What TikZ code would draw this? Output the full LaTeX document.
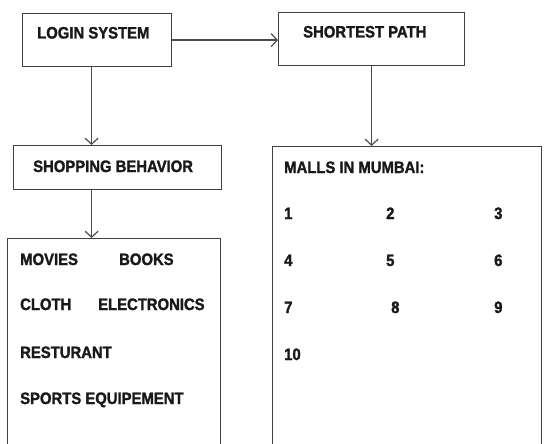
\documentclass[tikz,border=0pt]{standalone}
\usepackage{fontspec}
\setmainfont[BoldFeatures={FakeBold=1.6, FakeStretch=0.9}]{Liberation Sans}
\usetikzlibrary{arrows.meta}

\tikzset{
box/.style={draw=black!75, line width=1.2pt, anchor=north west, inner sep=0pt},
lbl/.style={anchor=base west, inner sep=0pt, text=black!90},
conn/.style={draw=black!70, line width=1.2pt, -{Straight Barb[length=6pt, width=13pt, line width=1.2pt]}}
}

\begin{document}
\begin{tikzpicture}[x=1pt, y=-1pt, font=\bfseries\fontsize{16.5}{19}\selectfont]

\useasboundingbox (0,0) rectangle (544,444);
\clip (0,0) rectangle (544,444);

% boxes
\node[box, minimum width=149pt, minimum height=53pt] (login) at (22,13) {};
\node[box, minimum width=186pt, minimum height=53pt] (path) at (278,12) {};
\node[box, minimum width=208pt, minimum height=44pt] (shop) at (13,145) {};
\node[box, minimum width=213pt, minimum height=230pt] (items) at (7,238) {};
\node[box, minimum width=269pt, minimum height=310pt] (malls) at (272,146) {};

% headings
\node[lbl] (tlogin) at (37,38.5) {LOGIN SYSTEM};
\node[lbl] (tpath) at (303,37.5) {SHORTEST PATH};
\node[lbl] (tshop) at (33,172) {SHOPPING BEHAVIOR};
\node[lbl] (tmalls) at (284,173) {MALLS IN MUMBAI:};

% categories
\node[lbl] (movies) at (20,265) {MOVIES};
\node[lbl] (books) at (119,265) {BOOKS};
\node[lbl] (cloth) at (20,310) {CLOTH};
\node[lbl] (elec) at (98,310) {ELECTRONICS};
\node[lbl] (rest) at (20,358) {RESTURANT};
\node[lbl] (sports) at (20,404) {SPORTS EQUIPEMENT};

% malls
\foreach \n/\px/\py in {1/284/219, 2/386/219, 3/494/219,
4/284/266, 5/386/266, 6/494/266,
7/284/313, 8/391/313, 9/494/313, 10/284/360}
\node[lbl] (m\n) at (\px,\py) {\n};

% connectors
\draw[conn] (login.east) -- (login.east -| path.west);
\draw[conn] ([xshift=-5.5pt]login.south) -- ([xshift=-5.5pt]login.south |- shop.north);
\draw[conn] ([xshift=-5.5pt]login.south |- shop.south) -- ([xshift=-5.5pt]login.south |- items.north);
\draw[conn] (path.south) -- (path.south |- malls.north);

\end{tikzpicture}
\end{document}
